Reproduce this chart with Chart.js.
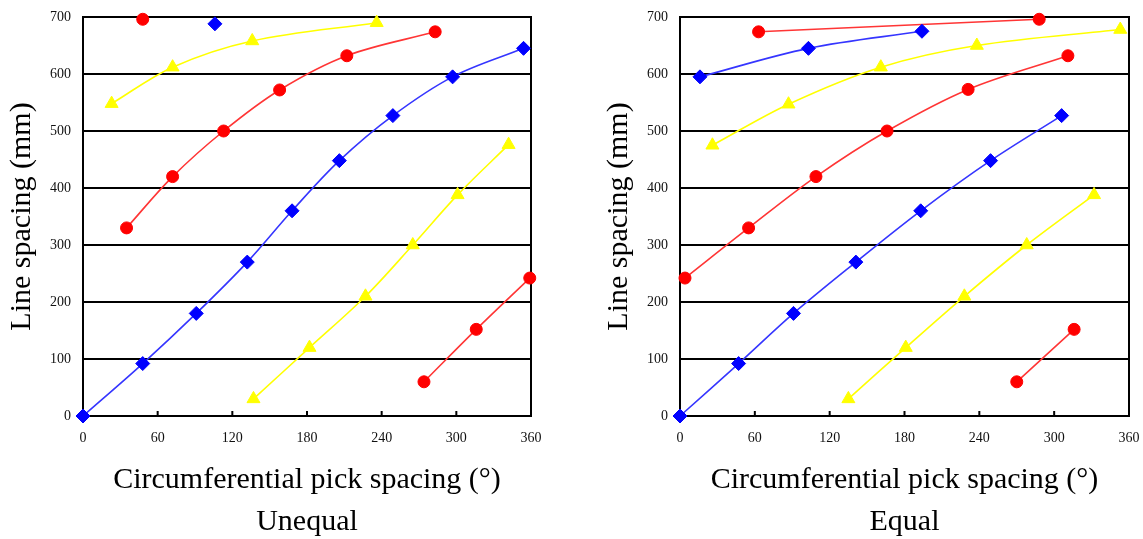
<!DOCTYPE html>
<html>
<head>
<meta charset="utf-8">
<script src="https://cdn.jsdelivr.net/npm/chart.js@4/dist/chart.umd.min.js"></script>
<style>
    body { margin: 0; background: #fff; }
    .panel { position: absolute; top: 0; height: 539px; }
    #unequal-box { left: 0; width: 571px; }
    #equal-box { left: 597px; width: 546px; }
</style>
</head>
<body>
<div class="panel" id="unequal-box"><canvas id="unequal-canvas"></canvas></div>
<div class="panel" id="equal-box"><canvas id="equal-canvas"></canvas></div>
<script>
// tick values
let x_ticks = [0, 60, 120, 180, 240, 300, 360];
let y_ticks = [0, 100, 200, 300, 400, 500, 600, 700];

// Unequal: [pick spacing (deg), line spacing (mm)]
let uq_red_top = [[48, 696]];
let uq_blue_top = [[106, 688]];
let uq_yellow_top = [[23, 548], [72, 612], [136, 658], [236, 690]];
let uq_red_upper = [[35, 330], [72, 420], [113, 500], [158, 572], [212, 632], [283, 674]];
let uq_blue_main = [[0, 0], [48, 92], [91, 180], [132, 270], [168, 360], [206, 448], [249, 527], [297, 595], [354, 645]];
let uq_yellow_lower = [[137, 30], [182, 120], [227, 210], [265, 300], [301, 388], [342, 476]];
let uq_red_lower = [[274, 60], [316, 152], [359, 242]];

// Equal
let eq_red_top = [[63, 674], [288, 696]];
let eq_blue_upper = [[16, 595], [103, 645], [194, 675]];
let eq_yellow_upper = [[26, 475], [87, 547], [161, 612], [238, 650], [353, 678]];
let eq_red_upper = [[4, 242], [55, 330], [109, 420], [166, 500], [231, 573], [311, 632]];
let eq_blue_main = [[0, 0], [47, 92], [91, 180], [141, 270], [193, 360], [249, 448], [306, 527]];
let eq_yellow_lower = [[135, 30], [181, 120], [228, 210], [278, 300], [332, 388]];
let eq_red_lower = [[270, 60], [316, 152]];

let styles = {
    blue: {line: '#3535ff', point: '#0000ff', shape: 'rectRot', radius: 7},
    red: {line: '#ff3535', point: '#ff0000', shape: 'circle', radius: 6},
    yellow: {line: '#ffff00', point: '#ffff00', shape: 'triangle', radius: 7.5}
};

function make_dataset(points, color) {
    let s = styles[color];
    let data = [];
    for (let i = 0; i < points.length; i++) {
        data.push({x: points[i][0], y: points[i][1]});
    }
    return {
        data: data,
        showLine: true,
        borderColor: s.line,
        borderWidth: 1.6,
        tension: 0.35,
        pointStyle: s.shape,
        pointRadius: s.radius,
        pointBackgroundColor: s.point,
        pointBorderColor: s.point,
        pointBorderWidth: 1,
        clip: false
    };
}

// right edge of the frame and the small inward ticks on the x axis
let frame_plugin = {
    id: 'frame',
    beforeDatasetsDraw(chart) {
        let ctx = chart.ctx;
        let a = chart.chartArea;
        let xs = chart.scales.x;
        ctx.save();
        ctx.strokeStyle = '#000';
        ctx.lineWidth = 2;
        ctx.beginPath();
        ctx.moveTo(a.right, a.top - 1);
        ctx.lineTo(a.right, a.bottom + 1);
        for (let i = 1; i < x_ticks.length - 1; i++) {
            let px = xs.getPixelForValue(x_ticks[i]);
            ctx.moveTo(px, a.bottom);
            ctx.lineTo(px, a.bottom - 5);
        }
        ctx.stroke();
        ctx.restore();
    }
};

function make_config(datasets, caption, pad_right) {
    return {
        type: 'scatter',
        data: {datasets: datasets},
        plugins: [frame_plugin],
        options: {
            responsive: true,
            maintainAspectRatio: false,
            animation: false,
            layout: {padding: {left: 0, right: pad_right, top: 17, bottom: 0}},
            plugins: {legend: {display: false}, tooltip: {enabled: false}},
            scales: {
                x: {
                    type: 'linear', min: 0, max: 360,
                    afterBuildTicks: (scale) => { scale.ticks = x_ticks.map(v => ({value: v})); },
                    afterFit: (scale) => {
                        scale.height = 123;
                        scale.paddingLeft = 0;
                        scale.paddingRight = 0;
                    },
                    grid: {display: false, drawTicks: false},
                    border: {display: true, color: '#000', width: 2},
                    ticks: {color: '#111', font: {family: 'Liberation Serif', size: 14}, padding: 14, maxRotation: 0},
                    title: {
                        display: true,
                        text: ['Circumferential pick spacing (°)', caption],
                        color: '#000',
                        font: {family: 'Liberation Serif', size: 30, lineHeight: 1.4},
                        padding: {top: 0, bottom: -4}
                    }
                },
                y: {
                    type: 'linear', min: 0, max: 700,
                    afterBuildTicks: (scale) => { scale.ticks = y_ticks.map(v => ({value: v})); },
                    afterFit: (scale) => {
                        scale.width = 83;
                        scale.paddingTop = 0;
                        scale.paddingBottom = 0;
                    },
                    grid: {color: '#000', lineWidth: 2, drawTicks: false},
                    border: {display: true, color: '#000', width: 2},
                    ticks: {color: '#111', font: {family: 'Liberation Serif', size: 14}, padding: 12},
                    title: {
                        display: true,
                        text: 'Line spacing (mm)',
                        color: '#000',
                        font: {family: 'Liberation Serif', size: 30, lineHeight: 1.2},
                        padding: {top: 4, bottom: 0}
                    }
                }
            }
        }
    };
}

let config_unequal = make_config([
    make_dataset(uq_yellow_top, 'yellow'),
    make_dataset(uq_red_upper, 'red'),
    make_dataset(uq_blue_main, 'blue'),
    make_dataset(uq_yellow_lower, 'yellow'),
    make_dataset(uq_red_lower, 'red'),
    make_dataset(uq_red_top, 'red'),
    make_dataset(uq_blue_top, 'blue')
], 'Unequal', 40);

let config_equal = make_config([
    make_dataset(eq_yellow_upper, 'yellow'),
    make_dataset(eq_red_upper, 'red'),
    make_dataset(eq_blue_main, 'blue'),
    make_dataset(eq_yellow_lower, 'yellow'),
    make_dataset(eq_red_lower, 'red'),
    make_dataset(eq_blue_upper, 'blue'),
    make_dataset(eq_red_top, 'red')
], 'Equal', 14);

let unequalChart = new Chart(document.getElementById('unequal-canvas'), config_unequal);
let equalChart = new Chart(document.getElementById('equal-canvas'), config_equal);
</script>
</body>
</html>
